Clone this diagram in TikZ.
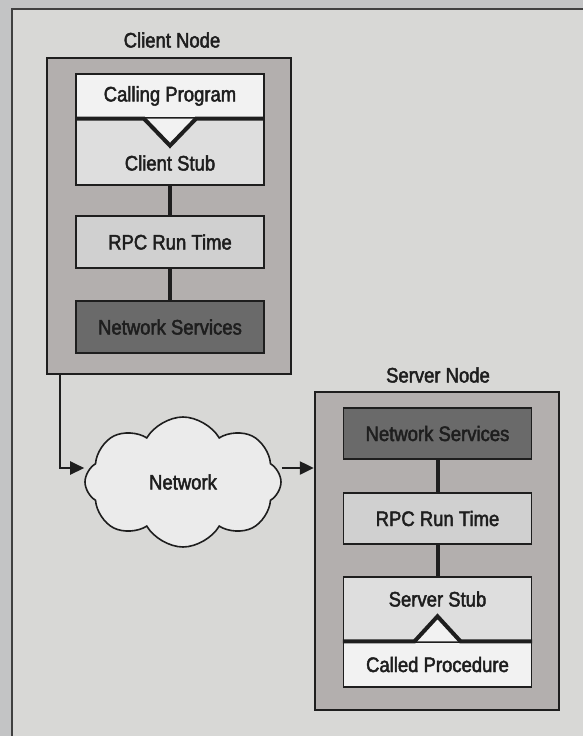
\documentclass[tikz,border=0pt]{standalone}
\usepackage{fontspec}
\setmainfont{Liberation Sans}[FakeStretch=0.88, FakeBold=2.2]
\usepackage{tikz}
\usetikzlibrary{arrows.meta,positioning,shapes.symbols}
\definecolor{ink}{HTML}{1E1E1E}
\definecolor{paper}{HTML}{D8D8D6}
\definecolor{margin}{HTML}{C3C4C5}
\definecolor{hostgray}{HTML}{B3AFAE}
\definecolor{bk05}{HTML}{F2F2F2}
\definecolor{bk15}{HTML}{DEDEDE}
\definecolor{bk20}{HTML}{D0D0D0}
\definecolor{bk60}{HTML}{6A6A6A}
\definecolor{cloudfill}{HTML}{EBEBEB}
\tikzset{
  hostbox/.style={
    rectangle, draw=ink, fill=hostgray, line width=2.5pt,
    minimum width=244pt, minimum height=#1, inner sep=0pt
  },
  hostbox/.default=316pt,
  layerbox/.style={
    rectangle, draw=ink, fill=#1, line width=1.3pt,
    minimum width=188pt, minimum height=52pt, inner sep=0pt,
    font=\fontsize{21}{24}\selectfont, text=ink
  },
  layerbox/.default=bk20,
  hostlabel/.style={
    font=\fontsize{21}{24}\selectfont, text=ink
  },
  linkline/.style={draw=ink, line width=4pt},
  flowarrow/.style={
    draw=ink, line width=2.5pt, -{Triangle[length=14pt,width=13pt]}
  },
  % ── cloud for the network ──
  netcloud/.style={
    cloud, cloud puffs=8, cloud puff arc=120, aspect=1.5,
    draw=ink, fill=cloudfill, line width=1.6pt,
    minimum width=196pt, minimum height=130pt, hostlabel
  },
}
\begin{document}
\begin{tikzpicture}[x=1pt, y=-1pt]

\useasboundingbox (0,0) rectangle (583,736);
\fill[margin] (0,0) rectangle (583,736);
\filldraw[fill=paper, draw=ink!85, line width=1.2pt] (12,9) rectangle (600,760);

% client side
\node[hostbox=316pt] (clientnode) at (169,216) {};
\node[hostlabel] (clienttitle) at (172,40) {Client Node};

\node[layerbox=bk15, minimum height=67pt, text height=52.5pt, text depth=14.5pt]
  (clientstub) at (170,151.5) {Client Stub};
\node[layerbox=bk05, minimum height=44pt] (callprog) at (170,96) {Calling Program};
\fill[bk05] ([xshift=-26pt]callprog.south) -- ++(26,27) -- ++(26,-27) -- cycle;
\draw[linkline] (callprog.south west) -- ([xshift=-26pt]callprog.south)
  -- ++(26,27) -- ++(26,-27) -- (callprog.south east);

\node[layerbox=bk20] (clientrpc) at (170,242) {RPC Run Time};
\node[layerbox=bk60] (clientnet) at (170,327) {Network Services};

\draw[linkline] (clientstub.south) -- (clientrpc.north);
\draw[linkline] (clientrpc.south) -- (clientnet.north);

% network
\node[netcloud] (network) at (183,482) {Network};
\coordinate (netin) at ([yshift=14pt]network.west);
\coordinate (netout) at ([yshift=14pt]network.east);

% server side
\node[hostbox=318pt] (servernode) at (437,551) {};
\node[hostlabel] (servertitle) at (438,375) {Server Node};

\node[layerbox=bk60, minimum height=51pt] (servernet) at (437.5,433.5) {Network Services};
\node[layerbox=bk20, minimum height=51pt] (serverrpc) at (437.5,518.5) {RPC Run Time};
\node[layerbox=bk15, minimum height=65pt, text height=29.5pt, text depth=35.5pt]
  (serverstub) at (437.5,609.5) {Server Stub};
\node[layerbox=bk05, minimum height=45pt] (calledproc) at (437.5,664.5) {Called Procedure};
\fill[bk05] ([xshift=-23pt]calledproc.north) -- ++(23,-25) -- ++(23,25) -- cycle;
\draw[linkline] (calledproc.north west) -- ([xshift=-23pt]calledproc.north)
  -- ++(23,-25) -- ++(23,25) -- (calledproc.north east);

\draw[linkline] (servernet.south) -- (serverrpc.north);
\draw[linkline] (serverrpc.south) -- (serverstub.north);

% flow
\draw[flowarrow] ([xshift=-109pt]clientnode.south) |- (netin);
\draw[flowarrow] (netout) -- (netout -| servernode.west);

\end{tikzpicture}
\end{document}
